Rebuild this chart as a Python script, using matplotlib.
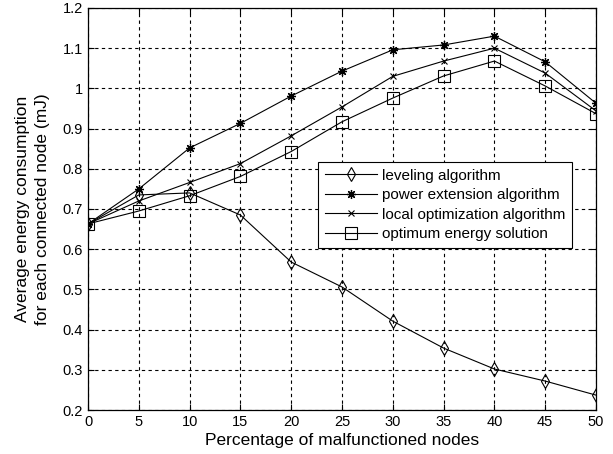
import matplotlib.pyplot as plt
from matplotlib.ticker import FuncFormatter

plt.rcParams['font.family'] = ['Liberation Sans', 'DejaVu Sans']

# percentage of malfunctioned nodes
pct = [0, 5, 10, 15, 20, 25, 30, 35, 40, 45, 50]

leveling = [0.663, 0.735, 0.74, 0.685, 0.568, 0.506, 0.421, 0.354, 0.302, 0.272, 0.237]
power_ext = [0.663, 0.75, 0.852, 0.913, 0.981, 1.043, 1.096, 1.108, 1.13, 1.066, 0.963]
local_opt = [0.663, 0.72, 0.766, 0.813, 0.882, 0.954, 1.03, 1.068, 1.1, 1.038, 0.944]
optimum = [0.663, 0.695, 0.733, 0.781, 0.843, 0.917, 0.976, 1.031, 1.068, 1.006, 0.937]

fig = plt.figure(figsize=(6.13, 4.54), dpi=100)
ax = fig.add_axes([0.1436, 0.0969, 0.8287, 0.8855])

lw = 0.8
ax.plot(pct, leveling, color='black', lw=lw, marker='d', ms=7, mfc='none', mew=0.8,
        label='leveling algorithm')
ax.plot(pct, power_ext, color='black', lw=lw, marker=(8, 2, 0), ms=6.5, mew=0.9,
        label='power extension algorithm')
ax.plot(pct, local_opt, color='black', lw=lw, marker='x', ms=5, mew=0.8,
        label='local optimization algorithm')
ax.plot(pct, optimum, color='black', lw=lw, marker='s', ms=8, mfc='none', mew=0.8,
        label='optimum energy solution')

ax.set_xlim(0, 50)
ax.set_ylim(0.2, 1.2)
ax.set_xticks(pct)
ax.set_yticks([0.2, 0.3, 0.4, 0.5, 0.6, 0.7, 0.8, 0.9, 1.0, 1.1, 1.2])
ax.yaxis.set_major_formatter(FuncFormatter(lambda v, p: f'{v:g}'))
ax.grid(True, color='black', linestyle=(0, (3, 3)), linewidth=0.8)
ax.tick_params(direction='in', labelsize=10.5, length=4, top=True, right=True,
               labeltop=False, labelright=False)
for s in ax.spines.values():
    s.set_linewidth(0.9)

ax.set_xlabel('Percentage of malfunctioned nodes', fontsize=12.5, labelpad=3)
ax.set_ylabel('Average energy consumption\nfor each connected node (mJ)', fontsize=12.5,
              labelpad=9, linespacing=1.45)

leg = ax.legend(loc='upper left', bbox_to_anchor=(0.453, 0.617), fontsize=11,
                fancybox=False, framealpha=1, edgecolor='black', borderaxespad=0,
                handlelength=3.4, handletextpad=0.3, labelspacing=0.35, borderpad=0.45)
leg.get_frame().set_linewidth(0.8)

fig.savefig('out.png', dpi=100)
